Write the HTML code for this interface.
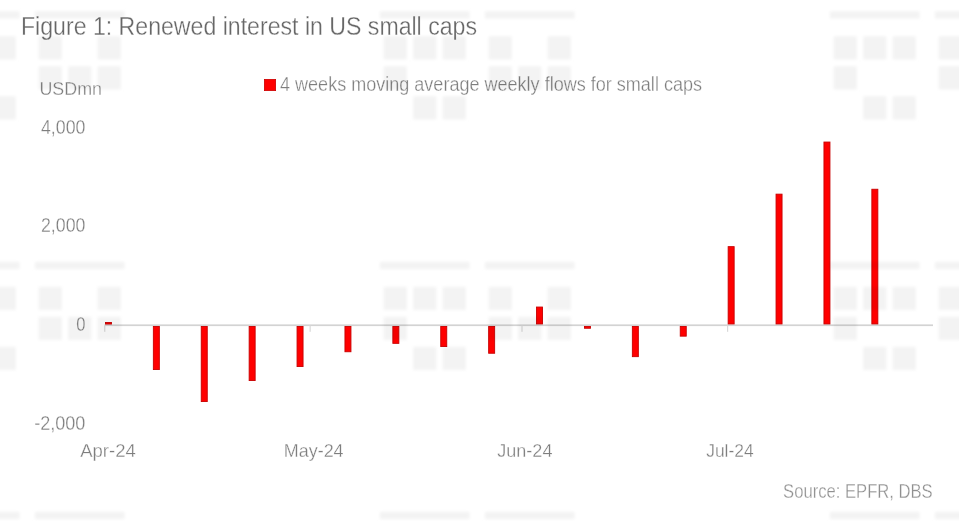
<!DOCTYPE html>
<html><head><meta charset="utf-8"><style>
html,body{margin:0;padding:0;background:#fff;}
body{width:959px;height:532px;overflow:hidden;position:relative;}
svg{position:absolute;left:0;top:0;}
text{font-family:"Liberation Sans",sans-serif;}
</style></head><body>
<svg width="959" height="532" viewBox="0 0 959 532">
<defs><filter id="bl" x="-10%" y="-10%" width="120%" height="120%"><feGaussianBlur stdDeviation="1.7"/></filter></defs>
<rect x="104.5" y="324.4" width="828.5" height="1.7" fill="#d3d3d3"/>
<rect x="104.15" y="325.5" width="1.2" height="6.3" fill="#d9d9d9"/>
<rect x="309.55" y="325.5" width="1.2" height="6.3" fill="#d9d9d9"/>
<rect x="521.40" y="325.5" width="1.2" height="6.3" fill="#d9d9d9"/>
<rect x="727.00" y="325.5" width="1.2" height="6.3" fill="#d9d9d9"/>
<rect x="105.45" y="322.45" width="6.0" height="1.60" fill="#ff0000" stroke="#c80000" stroke-width="0.9"/>
<rect x="153.35" y="326.45" width="6.0" height="43.10" fill="#ff0000" stroke="#c80000" stroke-width="0.9"/>
<rect x="201.25" y="326.45" width="6.0" height="75.10" fill="#ff0000" stroke="#c80000" stroke-width="0.9"/>
<rect x="249.15" y="326.45" width="6.0" height="54.10" fill="#ff0000" stroke="#c80000" stroke-width="0.9"/>
<rect x="297.05" y="326.45" width="6.0" height="40.10" fill="#ff0000" stroke="#c80000" stroke-width="0.9"/>
<rect x="344.95" y="326.45" width="6.0" height="25.30" fill="#ff0000" stroke="#c80000" stroke-width="0.9"/>
<rect x="392.85" y="326.45" width="6.0" height="16.90" fill="#ff0000" stroke="#c80000" stroke-width="0.9"/>
<rect x="440.75" y="326.45" width="6.0" height="20.10" fill="#ff0000" stroke="#c80000" stroke-width="0.9"/>
<rect x="488.65" y="326.45" width="6.0" height="26.80" fill="#ff0000" stroke="#c80000" stroke-width="0.9"/>
<rect x="536.55" y="307.05" width="6.0" height="16.90" fill="#ff0000" stroke="#c80000" stroke-width="0.9"/>
<rect x="584.45" y="326.45" width="6.0" height="1.80" fill="#ff0000" stroke="#c80000" stroke-width="0.9"/>
<rect x="632.35" y="326.45" width="6.0" height="30.20" fill="#ff0000" stroke="#c80000" stroke-width="0.9"/>
<rect x="680.25" y="326.45" width="6.0" height="9.70" fill="#ff0000" stroke="#c80000" stroke-width="0.9"/>
<rect x="728.15" y="246.65" width="6.0" height="77.30" fill="#ff0000" stroke="#c80000" stroke-width="0.9"/>
<rect x="776.05" y="194.15" width="6.0" height="129.80" fill="#ff0000" stroke="#c80000" stroke-width="0.9"/>
<rect x="823.95" y="142.05" width="6.0" height="181.90" fill="#ff0000" stroke="#c80000" stroke-width="0.9"/>
<rect x="871.85" y="189.25" width="6.0" height="134.70" fill="#ff0000" stroke="#c80000" stroke-width="0.9"/>
<g opacity="0.999">
<text x="21" y="34.8" font-size="25.6" fill="#676767" text-anchor="start" textLength="456" lengthAdjust="spacingAndGlyphs" stroke="#fff" stroke-width="0.3">Figure 1: Renewed interest in US small caps</text>
<text x="39.4" y="95" font-size="19" fill="#7e7e7e" text-anchor="start" textLength="62.6" lengthAdjust="spacingAndGlyphs" stroke="#fff" stroke-width="0.3">USDmn</text>
<rect x="264.4" y="79.4" width="11.2" height="11.2" fill="#ff0000" stroke="#cc0000" stroke-width="0.8"/>
<text x="280" y="91.4" font-size="19.5" fill="#7e7e7e" text-anchor="start" textLength="422" lengthAdjust="spacingAndGlyphs" stroke="#fff" stroke-width="0.3">4 weeks moving average weekly flows for small caps</text>
<text x="41.00000000000001" y="134.1" font-size="20.3" fill="#7e7e7e" text-anchor="start" textLength="44.4" lengthAdjust="spacingAndGlyphs" stroke="#fff" stroke-width="0.3">4,000</text>
<text x="41.00000000000001" y="232.3" font-size="20.3" fill="#7e7e7e" text-anchor="start" textLength="44.4" lengthAdjust="spacingAndGlyphs" stroke="#fff" stroke-width="0.3">2,000</text>
<text x="76.2" y="331.3" font-size="20.3" fill="#7e7e7e" text-anchor="start" textLength="9.2" lengthAdjust="spacingAndGlyphs" stroke="#fff" stroke-width="0.3">0</text>
<text x="34.2" y="430.3" font-size="20.3" fill="#7e7e7e" text-anchor="start" textLength="51.2" lengthAdjust="spacingAndGlyphs" stroke="#fff" stroke-width="0.3">-2,000</text>
<text x="80.2" y="457" font-size="19" fill="#7e7e7e" text-anchor="start" textLength="55.6" lengthAdjust="spacingAndGlyphs" stroke="#fff" stroke-width="0.3">Apr-24</text>
<text x="283.8" y="457" font-size="19" fill="#7e7e7e" text-anchor="start" textLength="59.8" lengthAdjust="spacingAndGlyphs" stroke="#fff" stroke-width="0.3">May-24</text>
<text x="497.2" y="457" font-size="19" fill="#7e7e7e" text-anchor="start" textLength="55.3" lengthAdjust="spacingAndGlyphs" stroke="#fff" stroke-width="0.3">Jun-24</text>
<text x="706.2" y="457" font-size="19" fill="#7e7e7e" text-anchor="start" textLength="47.4" lengthAdjust="spacingAndGlyphs" stroke="#fff" stroke-width="0.3">Jul-24</text>
<text x="783.1" y="498.3" font-size="20.5" fill="#909090" text-anchor="start" textLength="149.6" lengthAdjust="spacingAndGlyphs" stroke="#fff" stroke-width="0.3">Source: EPFR, DBS</text>
</g>
<g fill="#f3f3f3" filter="url(#bl)" style="mix-blend-mode:multiply"><rect x="35" y="11.35" width="89.5" height="7.2"/><rect x="38.75" y="36.35" width="23" height="23"/><rect x="97.75" y="36.35" width="23" height="23"/><rect x="38.75" y="66.35" width="23" height="23"/><rect x="68.25" y="66.35" width="23" height="23"/><rect x="97.75" y="66.35" width="23" height="23"/><rect x="485" y="11.35" width="89.5" height="7.2"/><rect x="488.75" y="36.35" width="23" height="23"/><rect x="547.75" y="36.35" width="23" height="23"/><rect x="488.75" y="66.35" width="23" height="23"/><rect x="518.25" y="66.35" width="23" height="23"/><rect x="547.75" y="66.35" width="23" height="23"/><rect x="935" y="11.35" width="89.5" height="7.2"/><rect x="938.75" y="36.35" width="23" height="23"/><rect x="997.75" y="36.35" width="23" height="23"/><rect x="938.75" y="66.35" width="23" height="23"/><rect x="968.25" y="66.35" width="23" height="23"/><rect x="997.75" y="66.35" width="23" height="23"/><rect x="-70" y="11.35" width="89.5" height="7.2"/><rect x="-66.25" y="36.35" width="23" height="23"/><rect x="-36.75" y="36.35" width="23" height="23"/><rect x="-7.25" y="36.35" width="23" height="23"/><rect x="-66.25" y="66.35" width="23" height="23"/><rect x="-36.75" y="96.35" width="23" height="23"/><rect x="-7.25" y="96.35" width="23" height="23"/><rect x="380" y="11.35" width="89.5" height="7.2"/><rect x="383.75" y="36.35" width="23" height="23"/><rect x="413.25" y="36.35" width="23" height="23"/><rect x="442.75" y="36.35" width="23" height="23"/><rect x="383.75" y="66.35" width="23" height="23"/><rect x="413.25" y="96.35" width="23" height="23"/><rect x="442.75" y="96.35" width="23" height="23"/><rect x="830" y="11.35" width="89.5" height="7.2"/><rect x="833.75" y="36.35" width="23" height="23"/><rect x="863.25" y="36.35" width="23" height="23"/><rect x="892.75" y="36.35" width="23" height="23"/><rect x="833.75" y="66.35" width="23" height="23"/><rect x="863.25" y="96.35" width="23" height="23"/><rect x="892.75" y="96.35" width="23" height="23"/><rect x="35" y="261.85" width="89.5" height="7.2"/><rect x="38.75" y="286.85" width="23" height="23"/><rect x="97.75" y="286.85" width="23" height="23"/><rect x="38.75" y="316.85" width="23" height="23"/><rect x="68.25" y="316.85" width="23" height="23"/><rect x="97.75" y="316.85" width="23" height="23"/><rect x="485" y="261.85" width="89.5" height="7.2"/><rect x="488.75" y="286.85" width="23" height="23"/><rect x="547.75" y="286.85" width="23" height="23"/><rect x="488.75" y="316.85" width="23" height="23"/><rect x="518.25" y="316.85" width="23" height="23"/><rect x="547.75" y="316.85" width="23" height="23"/><rect x="935" y="261.85" width="89.5" height="7.2"/><rect x="938.75" y="286.85" width="23" height="23"/><rect x="997.75" y="286.85" width="23" height="23"/><rect x="938.75" y="316.85" width="23" height="23"/><rect x="968.25" y="316.85" width="23" height="23"/><rect x="997.75" y="316.85" width="23" height="23"/><rect x="-70" y="261.85" width="89.5" height="7.2"/><rect x="-66.25" y="286.85" width="23" height="23"/><rect x="-36.75" y="286.85" width="23" height="23"/><rect x="-7.25" y="286.85" width="23" height="23"/><rect x="-66.25" y="316.85" width="23" height="23"/><rect x="-36.75" y="346.85" width="23" height="23"/><rect x="-7.25" y="346.85" width="23" height="23"/><rect x="380" y="261.85" width="89.5" height="7.2"/><rect x="383.75" y="286.85" width="23" height="23"/><rect x="413.25" y="286.85" width="23" height="23"/><rect x="442.75" y="286.85" width="23" height="23"/><rect x="383.75" y="316.85" width="23" height="23"/><rect x="413.25" y="346.85" width="23" height="23"/><rect x="442.75" y="346.85" width="23" height="23"/><rect x="830" y="261.85" width="89.5" height="7.2"/><rect x="833.75" y="286.85" width="23" height="23"/><rect x="863.25" y="286.85" width="23" height="23"/><rect x="892.75" y="286.85" width="23" height="23"/><rect x="833.75" y="316.85" width="23" height="23"/><rect x="863.25" y="346.85" width="23" height="23"/><rect x="892.75" y="346.85" width="23" height="23"/><rect x="35" y="511.85" width="89.5" height="7.2"/><rect x="38.75" y="536.85" width="23" height="23"/><rect x="97.75" y="536.85" width="23" height="23"/><rect x="38.75" y="566.85" width="23" height="23"/><rect x="68.25" y="566.85" width="23" height="23"/><rect x="97.75" y="566.85" width="23" height="23"/><rect x="485" y="511.85" width="89.5" height="7.2"/><rect x="488.75" y="536.85" width="23" height="23"/><rect x="547.75" y="536.85" width="23" height="23"/><rect x="488.75" y="566.85" width="23" height="23"/><rect x="518.25" y="566.85" width="23" height="23"/><rect x="547.75" y="566.85" width="23" height="23"/><rect x="935" y="511.85" width="89.5" height="7.2"/><rect x="938.75" y="536.85" width="23" height="23"/><rect x="997.75" y="536.85" width="23" height="23"/><rect x="938.75" y="566.85" width="23" height="23"/><rect x="968.25" y="566.85" width="23" height="23"/><rect x="997.75" y="566.85" width="23" height="23"/><rect x="-70" y="511.85" width="89.5" height="7.2"/><rect x="-66.25" y="536.85" width="23" height="23"/><rect x="-36.75" y="536.85" width="23" height="23"/><rect x="-7.25" y="536.85" width="23" height="23"/><rect x="-66.25" y="566.85" width="23" height="23"/><rect x="-36.75" y="596.85" width="23" height="23"/><rect x="-7.25" y="596.85" width="23" height="23"/><rect x="380" y="511.85" width="89.5" height="7.2"/><rect x="383.75" y="536.85" width="23" height="23"/><rect x="413.25" y="536.85" width="23" height="23"/><rect x="442.75" y="536.85" width="23" height="23"/><rect x="383.75" y="566.85" width="23" height="23"/><rect x="413.25" y="596.85" width="23" height="23"/><rect x="442.75" y="596.85" width="23" height="23"/><rect x="830" y="511.85" width="89.5" height="7.2"/><rect x="833.75" y="536.85" width="23" height="23"/><rect x="863.25" y="536.85" width="23" height="23"/><rect x="892.75" y="536.85" width="23" height="23"/><rect x="833.75" y="566.85" width="23" height="23"/><rect x="863.25" y="596.85" width="23" height="23"/><rect x="892.75" y="596.85" width="23" height="23"/></g>
</svg>
</body></html>
